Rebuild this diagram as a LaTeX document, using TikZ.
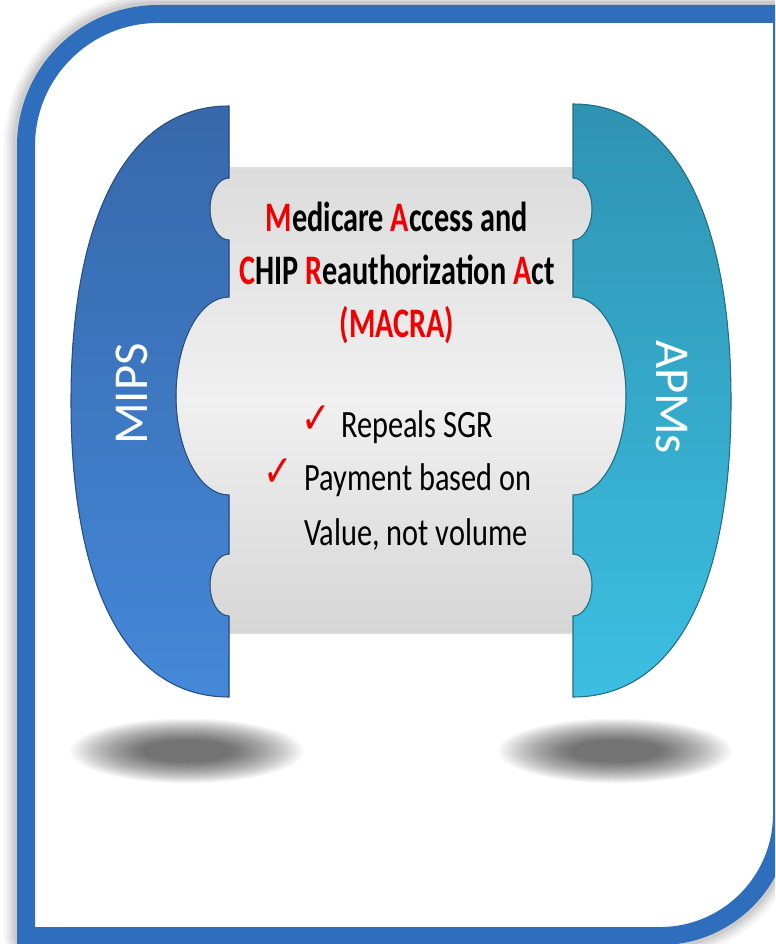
\documentclass[tikz,border=0pt]{standalone}
\usepackage{fontspec}
\setmainfont{Carlito}
\newfontfamily\titlefont[FakeStretch=0.72]{Carlito}
\newfontfamily\bodyfont[FakeStretch=0.785]{Carlito}
\newfontfamily\tickfont[FakeStretch=0.8]{DejaVu Sans}

\definecolor{frameblue}{HTML}{2F6EBD}
\definecolor{mipstop}{HTML}{3768AB}
\definecolor{mipsbot}{HTML}{4488D8}
\definecolor{apmtop}{HTML}{2F93B2}
\definecolor{apmbot}{HTML}{3CBFE2}
\definecolor{macrared}{HTML}{F00000}
\definecolor{panetop}{HTML}{DCDCDC}
\definecolor{panemid}{HTML}{F0F0F0}
\definecolor{panebot}{HTML}{D6D6D6}

\tikzset{
  titletext/.style={font=\titlefont\fontsize{31.5}{38}\selectfont\bfseries, inner sep=0},
  bodytext/.style={font=\bodyfont\fontsize{29}{35}\selectfont, inner sep=0},
  ticktext/.style={font=\tickfont\fontsize{33}{38}\selectfont, text=macrared, inner sep=0},
  sidetext/.style={font=\fontsize{36.5}{44}\selectfont, text=white, inner sep=0},
  hl/.style={text=macrared},
  shadowlayer/.style={black, opacity=0.024},
}

% outline of the rounded frame (centre line of the border)
\def\framepath{(26,936) -- (26,146) arc[start angle=180, end angle=270, radius=132]
  -- (782,14) -- (782,814) arc[start angle=0, end angle=90, radius=122] -- cycle}

\begin{document}
\begin{tikzpicture}[x=0.75pt, y=-0.75pt]
\useasboundingbox (0,0) rectangle (775,944);
\clip (0,0) rectangle (775,944);

% soft shadow around the frame
\foreach \w/\o in {44/0.04, 38/0.05, 32/0.06, 26/0.07}
  \draw[black, opacity=\o, line width=\w*0.75pt, line join=round] \framepath;
\fill[white] \framepath;

% floor shadows under the two side pieces: stacked translucent ellipses
\coordinate (shadowL) at (187,751);
\coordinate (shadowR) at (615,751);
\foreach \k in {1,...,30} {
  \fill[shadowlayer] (shadowL) ellipse ({42+2.5*\k} and {10+0.75*\k});
  \fill[shadowlayer] (shadowR) ellipse ({42+2.5*\k} and {10+0.75*\k});
}

% central grey puzzle piece
\fill[top color=panetop, bottom color=panebot, middle color=panemid, draw=black!12, line width=0.5pt]
  (229,168) -- (573,168) -- (573,178)
  arc[start angle=-90, end angle=90, x radius=19, y radius=31] -- (573,297)
  arc[start angle=-90, end angle=90, x radius=53, y radius=99] -- (573,554)
  arc[start angle=-90, end angle=90, x radius=19, y radius=31] -- (573,633)
  -- (229,633) -- (229,616)
  arc[start angle=90, end angle=270, x radius=19, y radius=31] -- (229,495)
  arc[start angle=90, end angle=270, x radius=53, y radius=99] -- (229,240)
  arc[start angle=90, end angle=270, x radius=19, y radius=31] -- cycle;

% left piece (MIPS)
\fill[top color=mipstop, bottom color=mipsbot, draw=mipstop!75!black, line width=0.8pt]
  (229,106) .. controls (128,106) and (71,215) .. (71,401)
  .. controls (71,590) and (128,697) .. (229,697)
  -- (229,616) arc[start angle=90, end angle=270, x radius=19, y radius=31]
  -- (229,495) arc[start angle=90, end angle=270, x radius=53, y radius=99]
  -- (229,240) arc[start angle=90, end angle=270, x radius=19, y radius=31]
  -- cycle;

% right piece (APMs)
\fill[top color=apmtop, bottom color=apmbot, draw=apmtop!75!black, line width=0.8pt]
  (573,104) .. controls (674,104) and (731,215) .. (731,401)
  .. controls (731,590) and (674,697) .. (573,697)
  -- (573,616) arc[start angle=90, end angle=-90, x radius=19, y radius=31]
  -- (573,495) arc[start angle=90, end angle=-90, x radius=53, y radius=99]
  -- (573,240) arc[start angle=90, end angle=-90, x radius=19, y radius=31]
  -- cycle;

% frame border
\draw[frameblue, line width=13.5pt] \framepath;

% side labels
\node[sidetext, rotate=90] (mips) at (132,394) {MIPS};
\node[sidetext, rotate=-90] (apms) at (672,397) {APMs};

% title
\node[titletext, anchor=base] (title1) at (397,232)
  {\textcolor{macrared}{M}edicare \textcolor{macrared}{A}ccess and};
\node[titletext, anchor=base] (title2) at (397,285)
  {\textcolor{macrared}{C}HIP \textcolor{macrared}{R}eauthorization \textcolor{macrared}{A}ct};
\node[titletext, hl, anchor=base] (title3) at (397,338) {(MACRA)};

% checked items
\node[ticktext, anchor=base west] (tick1) at (301,433) {✓};
\node[bodytext, anchor=base west] (item1) at (341,437) {Repeals SGR};
\node[ticktext, anchor=base west] (tick2) at (263,486) {✓};
\node[bodytext, anchor=base west] (item2a) at (304,490) {Payment based on};
\node[bodytext, anchor=base west] (item2b) at (304,545) {Value, not volume};
\end{tikzpicture}
\end{document}
